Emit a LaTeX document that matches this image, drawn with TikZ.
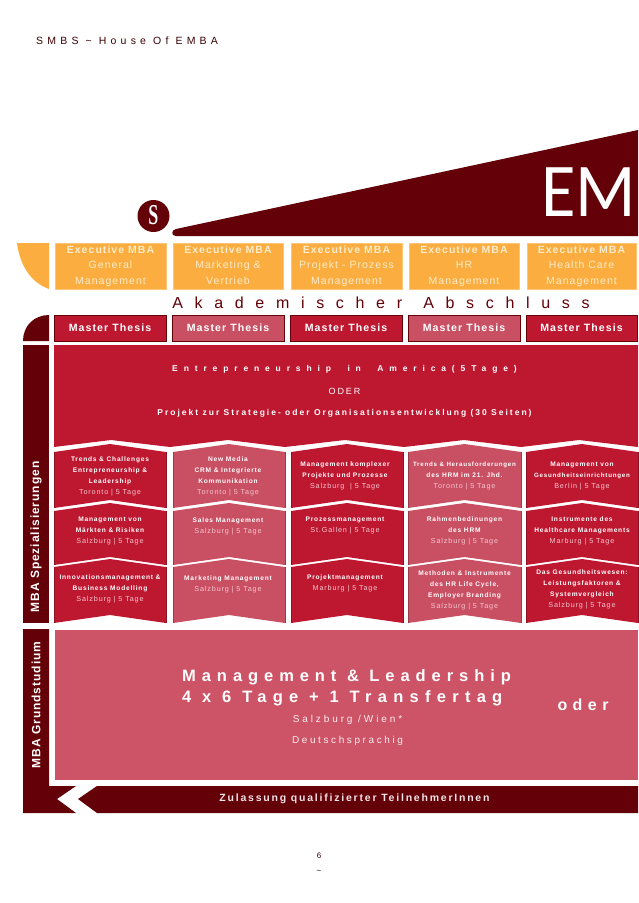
\documentclass[tikz,border=0pt]{standalone}
\usepackage{fontspec}
\setmainfont{Liberation Sans}
\newfontfamily\lsnone{Liberation Sans}
\newfontfamily\lscell[LetterSpace=12]{Liberation Sans}
\newfontfamily\lsbox[LetterSpace=10]{Liberation Sans}
\newfontfamily\lshead[LetterSpace=40]{Liberation Sans}
\newfontfamily\lsaka[LetterSpace=73]{Liberation Sans}
\newfontfamily\lswide[LetterSpace=69]{Liberation Sans}
\newfontfamily\lsbig[LetterSpace=36]{Liberation Sans}
\newfontfamily\lsbigb[LetterSpace=38]{Liberation Sans}
\newfontfamily\lsoder[LetterSpace=34]{Liberation Sans}
\newfontfamily\lsmid[LetterSpace=22]{Liberation Sans}
\newfontfamily\lsproj[LetterSpace=23.5]{Liberation Sans}
\newfontfamily\lssalz[LetterSpace=29]{Liberation Sans}
\newfontfamily\lsdeut[LetterSpace=26]{Liberation Sans}
\newfontfamily\lszul[LetterSpace=17]{Liberation Sans}
\newfontfamily\emfont{Carlito}
\newfontfamily\logofont{Liberation Serif}
\definecolor{maroon}{HTML}{640007}
\definecolor{crim}{HTML}{BE1730}
\definecolor{rosy}{HTML}{C94F63}
\definecolor{rosybig}{HTML}{CD5366}
\definecolor{amber}{HTML}{FBAE3F}
\definecolor{paleamber}{HTML}{FDEBCB}
\definecolor{palerose}{HTML}{F6C6CE}
\newcommand{\bl}[1]{{\bfseries\fontsize{6.6}{11}\selectfont #1}}
\newcommand{\bls}[1]{{\bfseries\fontsize{6.2}{11}\selectfont #1}}
\newcommand{\rl}[1]{{\fontsize{7.2}{11}\selectfont\color{palerose} #1}}
\newcommand{\chevron}[5]{%
  \fill[#5] (#1,#3+8) -- (#1/2+#2/2,#3) -- (#2,#3+8) -- (#2,#4+8) -- (#1/2+#2/2,#4) -- (#1,#4+8) -- cycle;
  \draw[#5!75!black,line width=.5pt] (#1,#3+8) -- (#1,#4+8) (#2,#3+8) -- (#2,#4+8);
}
\tikzset{
  execbox/.style={fill=amber,draw=amber!70!white,line width=.6pt,inner sep=0,minimum height=46pt,align=center,text=paleamber,font={\lsbox\fontsize{10.5}{15.5}\selectfont}},
  thesisbox/.style={draw=maroon,line width=.5pt,inner sep=0,minimum height=26pt,text=white,font={\lsbox\bfseries\fontsize{10.6}{12}\selectfont}},
  celltext/.style={inner sep=0,align=center,text=white,yshift=-.7pt,font={\lscell\fontsize{7}{11}\selectfont}},
  plain/.style={inner sep=0},
}
\newcommand{\execnode}[5]{\node[execbox,minimum width=#3pt] (#1) at (#2,266) {{\bfseries Executive MBA}\\#4\\#5\vphantom{g}};}
\begin{document}
\begin{tikzpicture}[x=1pt,y=-1pt]
\useasboundingbox (0,0) rectangle (638,903);
\fill[white] (0,0) rectangle (638,903);
\node[plain,anchor=west,text=maroon!60!black] (head) at (36,41) {\lshead\fontsize{10.5}{12}\selectfont SMBS \textasciitilde{} House Of EMBA};
% roof
\fill[maroon] (176,229) -- (638,130) -- (638,236) -- (176,236) .. controls (171,236) and (171,230) .. (176,229) -- cycle;
\node[plain,text=white,anchor=base west,xscale=.93] (em) at (541,216) {\emfont\fontsize{76}{80}\selectfont EM};
\fill[maroon] (153.5,216) circle (16);
\node[plain,text=white,yscale=1.6] (logo) at (153.5,215.5) {\logofont\bfseries\fontsize{18}{20}\selectfont S};
% orange row
\fill[amber] (17,243) -- (49,243) -- (49,289) .. controls (30,282) and (20,265) .. (17,243) -- cycle;
\execnode{ex1}{110.5}{111}{General}{Management}
\execnode{ex2}{228}{110}{Marketing \&}{Vertrieb}
\execnode{ex3}{346.5}{111}{Projekt - Prozess}{Management}
\execnode{ex4}{464}{110}{HR}{Management}
\execnode{ex5}{581.5}{109}{Health Care}{Management}
\node[plain,text=maroon] (aka) at (381,303) {\lsaka\fontsize{16}{18}\selectfont Akademischer\hspace{5pt} Abschluss};
% thesis row
\fill[maroon] (23,341) .. controls (23,326) and (34,315) .. (49,315) -- (49,341) -- cycle;
\node[thesisbox,fill=crim,minimum width=112pt] (th1) at (110,328) {Master Thesis};
\node[thesisbox,fill=rosy,minimum width=112pt] (th2) at (228,328) {Master Thesis};
\node[thesisbox,fill=crim,minimum width=112pt] (th3) at (346,328) {Master Thesis};
\node[thesisbox,fill=rosy,minimum width=112pt] (th4) at (464,328) {Master Thesis};
\node[thesisbox,fill=crim,minimum width=111pt] (th5) at (581.5,328) {Master Thesis};
% side bars
\fill[maroon] (23,345) rectangle (49,623);
\node[plain,text=white,rotate=90] (spez) at (36,537) {\lsnone\bfseries\addfontfeature{LetterSpace=8}\fontsize{12}{14}\selectfont MBA Spezialisierungen};
\fill[maroon] (23,629) -- (49,629) -- (49,786) -- (76,786) -- (57,799) -- (76,813) -- (23,813) -- cycle;
\fill[maroon] (97,786) -- (638,786) -- (638,813) -- (97,813) -- (78,799) -- cycle;
\node[plain,text=white,rotate=90] (grund) at (36,705) {\lsnone\bfseries\addfontfeature{LetterSpace=8}\fontsize{12}{14}\selectfont MBA Grundstudium};
% large panel
\fill[crim] (54,345) -- (638,345) -- (638,447) -- (579,440) -- (521,447) -- (464,440) -- (404,447) -- (345,440) -- (285,447) -- (228,440) -- (170,447) -- (111,440) -- (54,447) -- cycle;
\node[plain,text=white] (t1) at (344.5,369) {\lswide\bfseries\fontsize{8.5}{10}\selectfont Entrepreneurship\ \ in\ \ America(5Tage)};
\node[plain,text=white] (t2) at (344.5,391) {\lsmid\fontsize{9}{10}\selectfont ODER};
\node[plain,text=white] (t3) at (344.5,413) {\lsproj\bfseries\fontsize{8.5}{10}\selectfont Projekt zur Strategie- oder Organisationsentwicklung (30 Seiten)};
% chevrons: x-left x-right top-peak bottom-peak colour
\chevron{54}{166}{444}{500}{crim}
\chevron{54}{166}{503}{557}{crim}
\chevron{54}{166}{559}{615}{crim}
\chevron{173}{285}{444}{500}{rosy}
\chevron{173}{285}{503}{557}{rosy}
\chevron{173}{285}{559}{615}{rosy}
\chevron{291}{403}{444}{500}{crim}
\chevron{291}{403}{503}{557}{crim}
\chevron{291}{403}{559}{615}{crim}
\chevron{408}{521}{444}{500}{rosy}
\chevron{408}{521}{503}{557}{rosy}
\chevron{408}{521}{559}{615}{rosy}
\chevron{526}{638}{444}{500}{crim}
\chevron{526}{638}{503}{557}{crim}
\chevron{526}{638}{559}{615}{crim}
% cell texts
\node[celltext] (c11) at (110,475.5) {\bl{Trends \& Challenges}\\\bl{Entrepreneurship \&}\\\bl{Leadership}\\\rl{Toronto | 5 Tage}};
\node[celltext] (c12) at (110,530.5) {\bl{Management von}\\\bl{Märkten \& Risiken}\\\rl{Salzburg | 5 Tage}};
\node[celltext] (c13) at (110,588.5) {\bl{Innovationsmanagement \&}\\\bl{Business Modelling}\\\rl{Salzburg | 5 Tage}};
\node[celltext] (c21) at (228,475.5) {\bl{New Media}\\\bl{CRM \& Integrierte}\\\bl{Kommunikation}\\\rl{Toronto | 5 Tage}};
\node[celltext] (c22) at (228,525.5) {\bl{Sales Management}\\\rl{Salzburg | 5 Tage}};
\node[celltext] (c23) at (228,583.5) {\bl{Marketing Management}\\\rl{Salzburg | 5 Tage}};
\node[celltext] (c31) at (345,475.5) {\bl{Management komplexer}\\\bl{Projekte und Prozesse}\\\rl{Salzburg\ \ | 5 Tage}};
\node[celltext] (c32) at (345,525) {\bl{Prozessmanagement}\\\rl{St.Gallen | 5 Tage}};
\node[celltext] (c33) at (345,583) {\bl{Projektmanagement}\\\rl{Marburg | 5 Tage}};
\node[celltext] (c41) at (464.5,475.5) {\bls{Trends \& Herausforderungen}\\\bl{des HRM im 21. Jhd.}\\\rl{Toronto | 5 Tage}};
\node[celltext] (c42) at (464.5,530.5) {\bl{Rahmenbedinungen}\\\bl{des HRM}\\\rl{Salzburg | 5 Tage}};
\node[celltext] (c43) at (464.5,589.5) {\bl{Methoden \& Instrumente}\\\bl{des HR Life Cycle,}\\\bl{Employer Branding}\\\rl{Salzburg | 5 Tage}};
\node[celltext] (c51) at (582,475.5) {\bl{Management von}\\\bls{Gesundheitseinrichtungen}\\\rl{Berlin | 5 Tage}};
\node[celltext] (c52) at (582,530.5) {\bl{Instrumente des}\\\bl{Healthcare Managements}\\\rl{Marburg | 5 Tage}};
\node[celltext] (c53) at (582,588.5) {\bl{Das Gesundheitswesen:}\\\bl{Leistungsfaktoren \&}\\\bl{Systemvergleich}\\\rl{Salzburg | 5 Tage}};
% base panel
\fill[rosybig] (55,630) rectangle (638,780);
\node[plain,text=white,align=left,anchor=west,font={\lsbig\bfseries\fontsize{16.5}{21}\selectfont}] (mgmt) at (182,687.5) {Management \& Leadership\\\lsbigb 4 x 6 Tage + 1 Transfertag};
\node[plain,text=white!90!rosybig] (t4) at (347.5,720) {\lssalz\fontsize{10}{12}\selectfont Salzburg /Wien*};
\node[plain,text=white!90!rosybig] (t5) at (347.5,741) {\lsdeut\fontsize{10}{12}\selectfont Deutschsprachig};
\node[plain,text=white] (oder) at (583,705) {\lsoder\bfseries\fontsize{16}{18}\selectfont oder};
\node[plain,text=white!90!maroon] (zul) at (354.5,799) {\lszul\bfseries\fontsize{10.5}{12}\selectfont Zulassung qualifizierter TeilnehmerInnen};
% page foot
\node[plain,text=maroon!50!black] (pg) at (319,856) {\fontsize{8}{10}\selectfont 6};
\node[plain,text=maroon!50!black] (tilde) at (319,872) {\fontsize{8}{10}\selectfont \textasciitilde};
\end{tikzpicture}
\end{document}
